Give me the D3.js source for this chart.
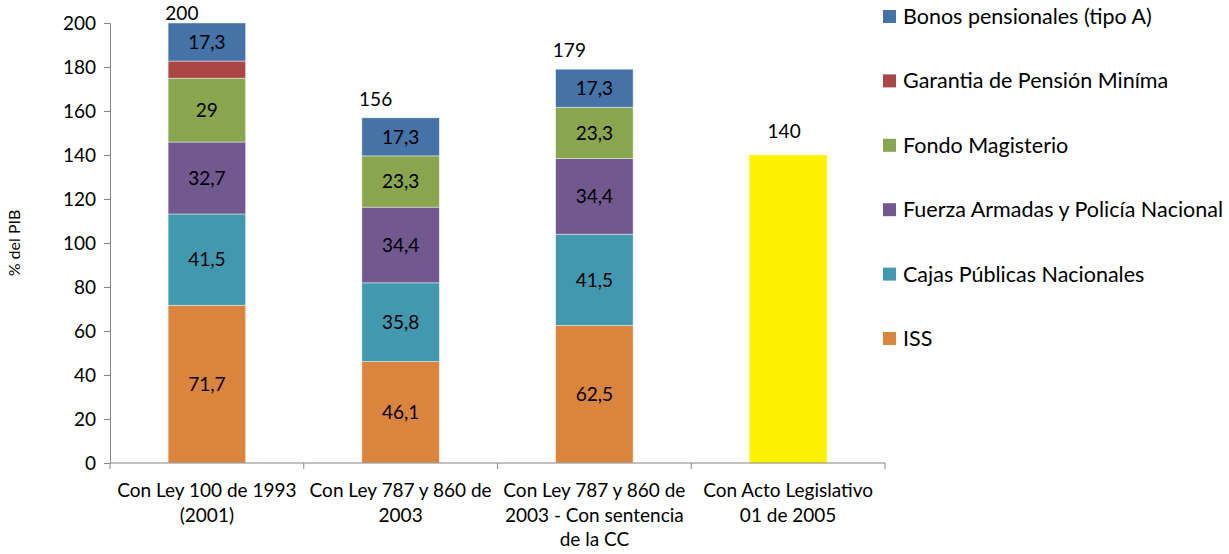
<!DOCTYPE html>
<html>
<head>
<meta charset="utf-8">
<script src="https://cdn.jsdelivr.net/npm/d3@7"></script>
<style>
  html, body { margin: 0; padding: 0; background: #fff; }
  svg { display: block; font-family: Lato, "Open Sans", sans-serif; }
</style>
</head>
<body>
<svg id="chart" width="1229" height="554"></svg>
<script>
// Categories (wrapped onto lines for the axis)
const categories = ["c1", "c2", "c3", "c4"];
const categoryLines = [
  ["Con Ley 100 de 1993", "(2001)"],
  ["Con Ley 787 y 860 de", "2003"],
  ["Con Ley 787 y 860 de", "2003 - Con sentencia", "de la CC"],
  ["Con Acto Legislativo", "01 de 2005"]
];

// Stacked components, bottom to top
const seriesNames = ["ISS", "Cajas Públicas Nacionales", "Fuerza Armadas y Policía Nacional",
  "Fondo Magisterio", "Garantia de Pensión Miníma", "Bonos pensionales (tipo A)"];
const iss        = [71.7, 46.1, 62.5, 0];
const cajas      = [41.5, 35.8, 41.5, 0];
const ffaa       = [32.7, 34.4, 34.4, 0];
const magisterio = [29,   23.3, 23.3, 0];
const garantia   = [7.8,  0,    0,    0];
const bonos      = [17.3, 17.3, 17.3, 0];
const acto       = [0,    0,    0,    140];   // single-block total for the last scenario
const totals     = [200, 156, 179, 140];
const showValue  = [true, true, true, true, false, true];

const yTicks = [0, 20, 40, 60, 80, 100, 120, 140, 160, 180, 200];
const colors = ["#DB843D", "#4198AF", "#71588F", "#89A54E", "#AA4643", "#4572A7"];
const actoColor = "#FFF200";

const svg = d3.select("#chart");
const axisColor = "#868686";
const fontSize = 19;
const fmt = v => String(v).replace(".", ",");

const x = d3.scaleBand().domain(categories).range([110, 885]).paddingInner(0.6).paddingOuter(0.3);
const y = d3.scaleLinear().domain([0, 200]).range([463, 23]);

// Build stack rows
const valuesBySeries = [iss, cajas, ffaa, magisterio, garantia, bonos];
const rows = categories.map((c, i) => {
  const r = { cat: c };
  seriesNames.forEach((s, k) => r[s] = valuesBySeries[k][i]);
  return r;
});
const stacked = d3.stack().keys(seriesNames)(rows);

// Bars
const g = svg.append("g");
stacked.forEach((layer, k) => {
  layer.forEach((d, i) => {
    const v = valuesBySeries[k][i];
    if (v <= 0) return;
    g.append("rect")
      .attr("x", x(categories[i]))
      .attr("y", y(d[1]))
      .attr("width", x.bandwidth())
      .attr("height", y(d[0]) - y(d[1]))
      .attr("fill", colors[k])
      .attr("stroke", "rgba(255,255,255,0.55)")
      .attr("stroke-width", 0.8);
    if (showValue[k]) {
      g.append("text")
        .attr("x", x(categories[i]) + x.bandwidth() / 2)
        .attr("y", (y(d[0]) + y(d[1])) / 2)
        .attr("dy", "0.35em")
        .attr("text-anchor", "middle")
        .attr("font-size", fontSize)
        .attr("fill", "#000")
        .text(fmt(v));
    }
  });
});

// Single block bar
acto.forEach((v, i) => {
  if (v <= 0) return;
  g.append("rect")
    .attr("x", x(categories[i]))
    .attr("y", y(v))
    .attr("width", x.bandwidth())
    .attr("height", y(0) - y(v))
    .attr("fill", actoColor);
});

// Total labels above each bar
totals.forEach((t, i) => {
  const stackedBar = acto[i] === 0;
  const top = stackedBar ? y(d3.sum(valuesBySeries, s => s[i])) : y(acto[i]);
  svg.append("text")
    .attr("x", x(categories[i]) + x.bandwidth() / 2 + (stackedBar ? -25 : -4))
    .attr("y", stackedBar ? Math.max(top - 12, 20) : top - 17)
    .attr("text-anchor", "middle")
    .attr("font-size", fontSize)
    .attr("fill", "#000")
    .text(t);
});

// Y axis
const yAxis = svg.append("g")
  .attr("transform", "translate(110,0)")
  .call(d3.axisLeft(y).tickValues(yTicks).tickSize(6).tickPadding(8));
yAxis.select(".domain").attr("stroke", axisColor);
yAxis.selectAll(".tick line").attr("stroke", axisColor);
yAxis.selectAll(".tick text").attr("font-size", fontSize).attr("fill", "#000")
  .attr("font-family", "Lato, 'Open Sans', sans-serif");

// X axis: baseline with ticks at category boundaries
const xAxis = svg.append("g").attr("transform", `translate(0,${y(0)})`);
xAxis.append("line").attr("x1", 110).attr("x2", 885).attr("stroke", axisColor);
const bounds = categories.map(c => x(c) - x.step() * x.paddingOuter()).concat([885]);
bounds.forEach(b => {
  xAxis.append("line").attr("x1", b).attr("x2", b).attr("y1", 0).attr("y2", 6).attr("stroke", axisColor);
});
categories.forEach((c, i) => {
  const t = xAxis.append("text")
    .attr("text-anchor", "middle")
    .attr("font-size", fontSize)
    .attr("fill", "#000");
  categoryLines[i].forEach((line, j) => {
    t.append("tspan")
      .attr("x", x(c) + x.bandwidth() / 2)
      .attr("y", 34 + j * 24.5)
      .text(line);
  });
});

// Y axis title
svg.append("text")
  .attr("transform", "translate(20,243) rotate(-90)")
  .attr("text-anchor", "middle")
  .attr("font-size", 16)
  .attr("fill", "#000")
  .text("% del PIB");

// Legend (top series first)
const legendOrder = seriesNames.map((s, k) => ({ name: s, color: colors[k] })).reverse();
const legend = svg.append("g");
legendOrder.forEach((d, i) => {
  const cy = 16.5 + i * 64.4;
  legend.append("rect").attr("x", 883).attr("y", cy - 6.5).attr("width", 13).attr("height", 13).attr("fill", d.color);
  legend.append("text").attr("x", 903).attr("y", cy).attr("dy", "0.35em")
    .attr("font-size", 21.5).attr("fill", "#000").text(d.name);
});
</script>
</body>
</html>
